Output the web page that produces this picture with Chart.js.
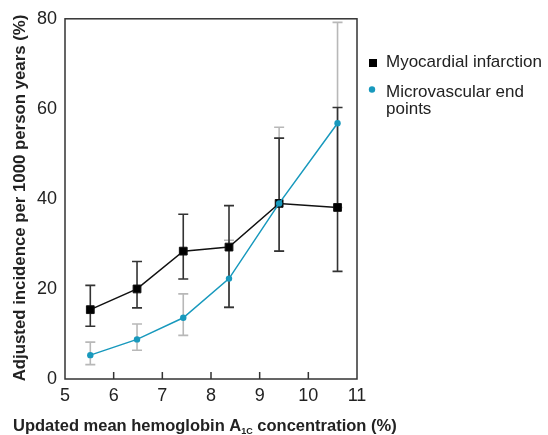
<!DOCTYPE html>
<html>
<head>
<meta charset="utf-8">
<script src="https://cdn.jsdelivr.net/npm/chart.js@4"></script>
<style>
  body { margin: 0; background: #fff; }
</style>
</head>
<body>
<canvas id="chart" width="548" height="435"></canvas>
<script>
// values
const hba1c = [5.52, 6.48, 7.43, 8.37, 9.40, 10.60];
const miRate = [15.4, 20.0, 28.4, 29.3, 39.0, 38.1];
const miLow = [11.7, 15.8, 22.2, 15.9, 28.4, 23.9];
const miHigh = [20.8, 26.1, 36.6, 38.5, 53.5, 60.3];
const microRate = [5.3, 8.8, 13.6, 22.3, 39.0, 56.8];
const microLow = [3.2, 6.4, 9.7, 16.0, 28.4, 38.1];
const microHigh = [8.2, 12.2, 18.9, 30.8, 55.9, 79.2];
const xTicks = [5, 6, 7, 8, 9, 10, 11];
const yTicks = [0, 20, 40, 60, 80];

const FONT = '"Liberation Sans", Arial, sans-serif';
const CYAN = '#1899bd';
const INK = '#222';

const pts = (ys) => hba1c.map((x, i) => ({ x: x, y: ys[i] }));

// error bars, grey (microvascular) below black (MI)
const errorBars = {
  id: 'errorBars',
  beforeDatasetsDraw(chart) {
    const ctx = chart.ctx;
    const xs = chart.scales.x, ys = chart.scales.y;
    const draw = (lo, hi, color) => {
      ctx.save();
      ctx.strokeStyle = color;
      ctx.lineWidth = 1.6;
      hba1c.forEach((v, i) => {
        const px = xs.getPixelForValue(v);
        const y1 = ys.getPixelForValue(lo[i]);
        const y2 = ys.getPixelForValue(hi[i]);
        ctx.beginPath();
        ctx.moveTo(px, y1); ctx.lineTo(px, y2);
        ctx.moveTo(px - 5, y1); ctx.lineTo(px + 5, y1);
        ctx.moveTo(px - 5, y2); ctx.lineTo(px + 5, y2);
        ctx.stroke();
      });
      ctx.restore();
    };
    draw(microLow, microHigh, '#b8b8b8');
    draw(miLow, miHigh, '#333');
  }
};

// frame, inner ticks, axis titles and legend
const decor = {
  id: 'decor',
  afterDraw(chart) {
    const ctx = chart.ctx;
    const a = chart.chartArea;
    const xs = chart.scales.x;
    ctx.save();
    ctx.strokeStyle = '#333';
    ctx.lineWidth = 1.5;
    ctx.strokeRect(a.left, a.top, a.right - a.left, a.bottom - a.top);
    ctx.beginPath();
    xTicks.slice(1, -1).forEach(v => {
      const px = xs.getPixelForValue(v);
      ctx.moveTo(px, a.bottom); ctx.lineTo(px, a.bottom - 7);
    });
    ctx.stroke();

    // y title
    ctx.fillStyle = INK;
    ctx.font = 'bold 16.8px ' + FONT;
    ctx.textAlign = 'center';
    ctx.textBaseline = 'middle';
    ctx.save();
    ctx.translate(20, 198);
    ctx.rotate(-Math.PI / 2);
    ctx.fillText('Adjusted incidence per 1000 person years (%)', 0, 0);
    ctx.restore();

    // x title with subscript
    const parts = [
      ['Updated mean hemoglobin A', 'bold 16.5px ' + FONT, 0],
      ['1C', 'bold 9px ' + FONT, 3],
      [' concentration (%)', 'bold 16.5px ' + FONT, 0]
    ];
    ctx.textAlign = 'left';
    ctx.textBaseline = 'alphabetic';
    let x = 13;
    parts.forEach(([t, f, dy]) => {
      ctx.font = f;
      ctx.fillText(t, x, 431 + dy);
      x += ctx.measureText(t).width;
    });

    // legend
    ctx.font = '17px ' + FONT;
    ctx.fillStyle = '#000';
    ctx.fillRect(369, 59, 8, 8);
    ctx.fillStyle = INK;
    ctx.fillText('Myocardial infarction', 386, 67);
    ctx.fillStyle = CYAN;
    ctx.beginPath();
    ctx.arc(372, 89.5, 3.2, 0, Math.PI * 2);
    ctx.fill();
    ctx.fillStyle = INK;
    ctx.fillText('Microvascular end', 386, 97);
    ctx.fillText('points', 386, 114);
    ctx.restore();
  }
};

new Chart(document.getElementById('chart'), {
  type: 'scatter',
  data: {
    datasets: [
      {
        label: 'Microvascular end points',
        data: pts(microRate),
        showLine: true,
        borderColor: CYAN,
        backgroundColor: CYAN,
        borderWidth: 1.5,
        pointStyle: 'circle',
        pointRadius: 3.2,
        pointBorderWidth: 0,
        order: 0
      },
      {
        label: 'Myocardial infarction',
        data: pts(miRate),
        showLine: true,
        borderColor: '#111',
        backgroundColor: '#000',
        borderWidth: 1.5,
        pointStyle: 'rect',
        pointRadius: 5.5,
        pointBorderWidth: 1,
        order: 1
      }
    ]
  },
  options: {
    responsive: false,
    animation: false,
    layout: { padding: { top: 17, right: 191, left: 0, bottom: 0 } },
    plugins: { legend: { display: false }, tooltip: { enabled: false } },
    scales: {
      x: {
        type: 'linear', min: 5, max: 11,
        afterFit: s => { s.height = 56; },
        afterBuildTicks: s => { s.ticks = xTicks.map(v => ({ value: v })); },
        grid: { display: false, drawTicks: false },
        border: { display: false },
        ticks: { padding: 6, color: INK, font: { family: FONT, size: 18 } }
      },
      y: {
        min: 0, max: 80,
        afterFit: s => { s.width = 65; },
        afterBuildTicks: s => { s.ticks = yTicks.map(v => ({ value: v })); },
        grid: { display: false, drawTicks: false },
        border: { display: false },
        ticks: { padding: 8, color: INK, font: { family: FONT, size: 18 } }
      }
    }
  },
  plugins: [errorBars, decor]
});
</script>
</body>
</html>
